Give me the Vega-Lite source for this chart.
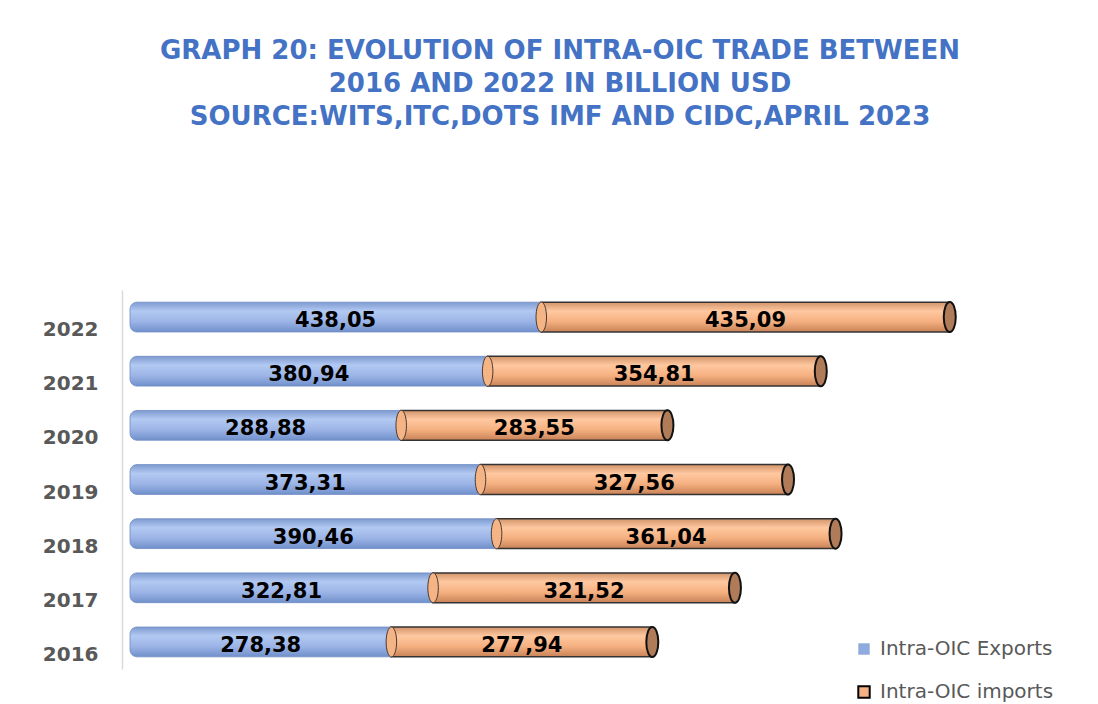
{
  "$schema": "https://vega.github.io/schema/vega-lite/v6.json",
  "width": 860,
  "height": 379,
  "autosize": {"type": "none"},
  "padding": {"left": 130, "top": 290, "right": 108, "bottom": 35},
  "background": "white",
  "title": {
    "text": ["GRAPH 20: EVOLUTION OF INTRA-OIC TRADE BETWEEN", "2016 AND 2022 IN BILLION USD", "SOURCE:WITS,ITC,DOTS IMF AND CIDC,APRIL 2023"],
    "font": "DejaVu Sans",
    "fontSize": 26,
    "fontWeight": "bold",
    "color": "#4472C4",
    "lineHeight": 33,
    "anchor": "middle",
    "offset": 160
  },
  "data": {
    "values": [
      {"year": "2022", "series": "Intra-OIC Exports", "value": 438.05},
      {"year": "2022", "series": "Intra-OIC imports", "value": 435.09},
      {"year": "2021", "series": "Intra-OIC Exports", "value": 380.94},
      {"year": "2021", "series": "Intra-OIC imports", "value": 354.81},
      {"year": "2020", "series": "Intra-OIC Exports", "value": 288.88},
      {"year": "2020", "series": "Intra-OIC imports", "value": 283.55},
      {"year": "2019", "series": "Intra-OIC Exports", "value": 373.31},
      {"year": "2019", "series": "Intra-OIC imports", "value": 327.56},
      {"year": "2018", "series": "Intra-OIC Exports", "value": 390.46},
      {"year": "2018", "series": "Intra-OIC imports", "value": 361.04},
      {"year": "2017", "series": "Intra-OIC Exports", "value": 322.81},
      {"year": "2017", "series": "Intra-OIC imports", "value": 321.52},
      {"year": "2016", "series": "Intra-OIC Exports", "value": 278.38},
      {"year": "2016", "series": "Intra-OIC imports", "value": 277.94}
    ]
  },
  "transform": [
    {"stack": "value", "groupby": ["year"], "sort": [{"field": "series", "order": "ascending"}], "as": ["x0", "x1"]}
  ],
  "encoding": {
    "y": {
      "field": "year",
      "type": "ordinal",
      "sort": "descending",
      "scale": {"paddingInner": 0.45, "paddingOuter": 0.225},
      "axis": {
        "title": null,
        "ticks": false,
        "grid": false,
        "offset": 8,
        "domainColor": "#D9D9D9",
        "domainWidth": 1.5,
        "labelFont": "DejaVu Sans",
        "labelFontSize": 20,
        "labelFontWeight": "bold",
        "labelColor": "#595959",
        "labelPadding": 24,
        "labelOffset": 13
      }
    }
  },
  "layer": [
    {
      "transform": [{"filter": "datum.series === 'Intra-OIC Exports'"}],
      "mark": {
        "type": "bar",
        "fill": {"gradient": "linear", "x1": 0, "y1": 0, "x2": 0, "y2": 1,
          "stops": [
            {"offset": 0, "color": "#7E9AD0"},
            {"offset": 0.3, "color": "#B2C9F2"},
            {"offset": 0.65, "color": "#9CB4E6"},
            {"offset": 1, "color": "#7090CB"}
          ]},
        "stroke": "#6F8BC4",
        "strokeWidth": 0.8,
        "cornerRadiusTopLeft": 7,
        "cornerRadiusBottomLeft": 7
      },
      "encoding": {
        "x": {"field": "x0", "type": "quantitative", "scale": {"domain": [0, 916], "nice": false, "zero": true}, "axis": null},
        "x2": {"field": "x1"}
      }
    },
    {
      "transform": [{"filter": "datum.series === 'Intra-OIC imports'"}],
      "mark": {
        "type": "bar",
        "fill": {"gradient": "linear", "x1": 0, "y1": 0, "x2": 0, "y2": 1,
          "stops": [
            {"offset": 0, "color": "#D2946A"},
            {"offset": 0.3, "color": "#FFC8A0"},
            {"offset": 0.65, "color": "#F5B080"},
            {"offset": 1, "color": "#C88257"}
          ]},
        "stroke": "#333333",
        "strokeWidth": 1.5
      },
      "encoding": {
        "x": {"field": "x0", "type": "quantitative", "scale": {"domain": [0, 916], "nice": false, "zero": true}, "axis": null},
        "x2": {"field": "x1"}
      }
    },
    {
      "transform": [{"filter": "datum.series === 'Intra-OIC imports'"}],
      "mark": {
        "type": "point",
        "shape": "M 0 -1 A 0.35 1 0 1 1 0 1 A 0.35 1 0 1 1 0 -1 Z",
        "filled": true,
        "fill": "#F5B486",
        "stroke": "#4a3a30",
        "strokeWidth": 1,
        "opacity": 1,
        "size": 900
      },
      "encoding": {
        "x": {"field": "x0", "type": "quantitative", "scale": {"domain": [0, 916], "nice": false, "zero": true}, "axis": null}
      }
    },
    {
      "transform": [{"filter": "datum.series === 'Intra-OIC imports'"}],
      "mark": {
        "type": "point",
        "shape": "M 0 -1 A 0.4 1 0 1 1 0 1 A 0.4 1 0 1 1 0 -1 Z",
        "filled": true,
        "fill": "#AF7B59",
        "stroke": "#111111",
        "strokeWidth": 2,
        "opacity": 1,
        "size": 900
      },
      "encoding": {
        "x": {"field": "x1", "type": "quantitative", "scale": {"domain": [0, 916], "nice": false, "zero": true}, "axis": null}
      }
    },
    {
      "transform": [
        {"fold": ["x0", "x1"], "as": ["edge", "pos"]},
        {"aggregate": [{"op": "mean", "field": "pos", "as": "mid"}], "groupby": ["year", "series", "value"]}
      ],
      "mark": {
        "type": "text",
        "font": "DejaVu Sans",
        "fontSize": 21,
        "fontWeight": "bold",
        "color": "#000000",
        "baseline": "middle",
        "align": "center",
        "dy": 4
      },
      "encoding": {
        "x": {"field": "mid", "type": "quantitative", "scale": {"domain": [0, 916], "nice": false, "zero": true}, "axis": null},
        "text": {"field": "value", "type": "quantitative", "format": ".2f"}
      }
    },
    {
      "mark": {"type": "point", "shape": "square", "filled": true, "opacity": 0},
      "encoding": {
        "x": {"field": "x1", "type": "quantitative", "scale": {"domain": [0, 916], "nice": false, "zero": true}, "axis": null},
        "fill": {
          "field": "series",
          "type": "nominal",
          "scale": {"domain": ["Intra-OIC Exports", "Intra-OIC imports"], "range": ["#8FAADC", "#F4B183"]},
          "legend": {
            "title": null,
            "orient": "none",
            "legendX": 724,
            "legendY": 349,
            "padding": 0,
            "symbolType": "square",
            "symbolSize": 130,
            "symbolStrokeWidth": 2,
            "labelFont": "DejaVu Sans",
            "labelFontSize": 20,
            "labelColor": "#595959",
            "labelOffset": 6,
            "labelLimit": 400,
            "rowPadding": 23,
            "encode": {"symbols": {"update": {"opacity": {"value": 1}}}}
          }
        },
        "stroke": {
          "field": "series",
          "type": "nominal",
          "scale": {"domain": ["Intra-OIC Exports", "Intra-OIC imports"], "range": ["transparent", "#000000"]},
          "legend": {
            "title": null,
            "orient": "none",
            "legendX": 724,
            "legendY": 349,
            "padding": 0,
            "symbolType": "square",
            "symbolSize": 130,
            "symbolStrokeWidth": 2,
            "labelFont": "DejaVu Sans",
            "labelFontSize": 20,
            "labelColor": "#595959",
            "labelOffset": 6,
            "labelLimit": 400,
            "rowPadding": 23,
            "encode": {"symbols": {"update": {"opacity": {"value": 1}}}}
          }
        }
      }
    }
  ],
  "config": {
    "view": {"stroke": null},
    "locale": {"number": {"decimal": ",", "thousands": ".", "grouping": [3], "currency": ["", " €"]}}
  }
}
